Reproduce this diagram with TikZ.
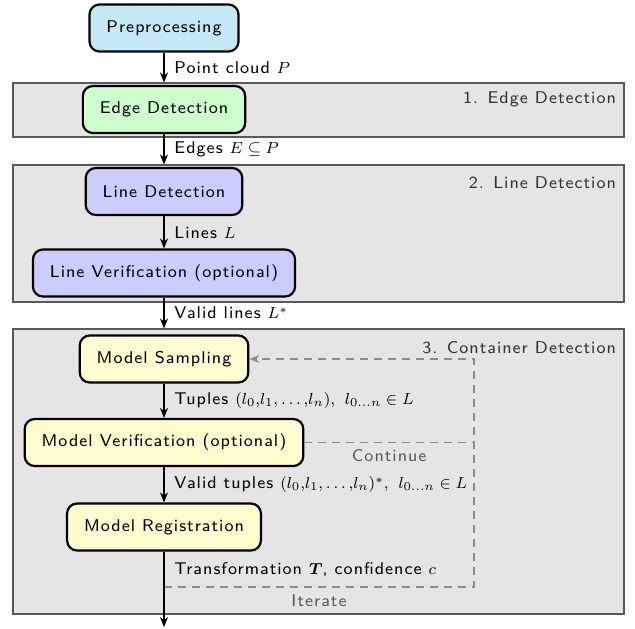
\documentclass[tikz,border=0pt]{standalone}
\usepackage{amsmath}
\usepackage{fontspec}
\setsansfont{lmsans8-regular.otf}[LetterSpace=6,BoldFont=lmsans10-bold.otf]
\usepackage{tikz}
\usetikzlibrary{arrows.meta}

\definecolor{preblue}{RGB}{197,232,247}
\definecolor{edgegreen}{RGB}{204,255,204}
\definecolor{linelilac}{RGB}{204,204,255}
\definecolor{modelyellow}{RGB}{255,252,208}
\definecolor{stagegray}{RGB}{229,229,229}

\begin{document}
\begin{tikzpicture}[x=0.5pt,y=-0.5pt,font={\fontsize{8.5}{10}\selectfont\sffamily},
  box/.style={draw,line width=1.1pt,rounded corners=5pt,inner xsep=8.5pt,minimum height=23.5pt},
  stage/.style={draw=black!65,fill=stagegray,line width=0.6pt,minimum width=305.5pt,inner sep=0pt},
  stagename/.style={anchor=east,text=black!80},
  flow/.style={thick,-{Stealth[length=5pt,width=4pt]}},
  lbl/.style={right=1.5pt},
  feedback/.style={draw=black!45,semithick,dash pattern=on 4pt off 3pt},
  loopname/.style={below,text=black!65}]
\useasboundingbox (0,0) rectangle (635,628);

% stages
\node[stage,minimum height=27pt] (stage1) at (318.5,110) {};
\node[stage,minimum height=68.5pt] (stage2) at (318.5,233.5) {};
\node[stage,minimum height=142.5pt] (stage3) at (318.5,471.5) {};
\node[stagename] (name1) at (623,99) {1. Edge Detection};
\node[stagename] (name2) at (623,183) {2. Line Detection};
\node[stagename] (name3) at (623,348) {3. Container Detection};

% steps
\node[box,fill=preblue] (pre) at (164,28) {Preprocessing};
\node[box,fill=edgegreen] (edge) at (164,109.5) {Edge Detection};
\node[box,fill=linelilac] (linedet) at (164,191.5) {Line Detection};
\node[box,fill=linelilac] (linever) at (164,273) {Line Verification (optional)};
\node[box,fill=modelyellow] (ms) at (164,359) {Model Sampling};
\node[box,fill=modelyellow] (mv) at (164,442.5) {Model Verification (optional)};
\node[box,fill=modelyellow] (mr) at (164,527) {Model Registration};

\coordinate (split) at (164,587);
\coordinate (corner) at (474,587);
\coordinate (exit) at (164,627);

% ransac loop
\draw[feedback] (mv.east) -- (mv.east -| corner) node[midway,loopname] {Continue};
\draw[feedback,-{Stealth[length=5pt,width=4pt]}] (split) -- (corner) node[midway,loopname] {Iterate}
  -- (corner |- ms.east) -- (ms.east);

% data flow
\draw[flow] (pre.south) -- (pre.south |- stage1.north) node[midway,lbl] {Point cloud $P$};
\draw[flow] (edge.south) -- (edge.south |- stage2.north) node[midway,lbl] {Edges $E\subseteq P$};
\draw[flow] (linedet) -- (linever) node[midway,lbl] {Lines $L$};
\draw[flow] (linever.south) -- (linever.south |- stage3.north) node[midway,lbl] {Valid lines $L^*$};
\draw[flow] (ms) -- (mv) node[midway,lbl] {Tuples $(l_0{,}l_1{,}\ldots{,}l_n),\ l_{0\ldots n}\in L$};
\draw[flow] (mv) -- (mr) node[midway,lbl] {Valid tuples $(l_0{,}l_1{,}\ldots{,}l_n)^*,\ l_{0\ldots n}\in L$};
\draw[flow] (mr.south) -- (split) node[midway,lbl] {Transformation $\boldsymbol{T}$, confidence $c$} -- (exit);
\end{tikzpicture}
\end{document}
